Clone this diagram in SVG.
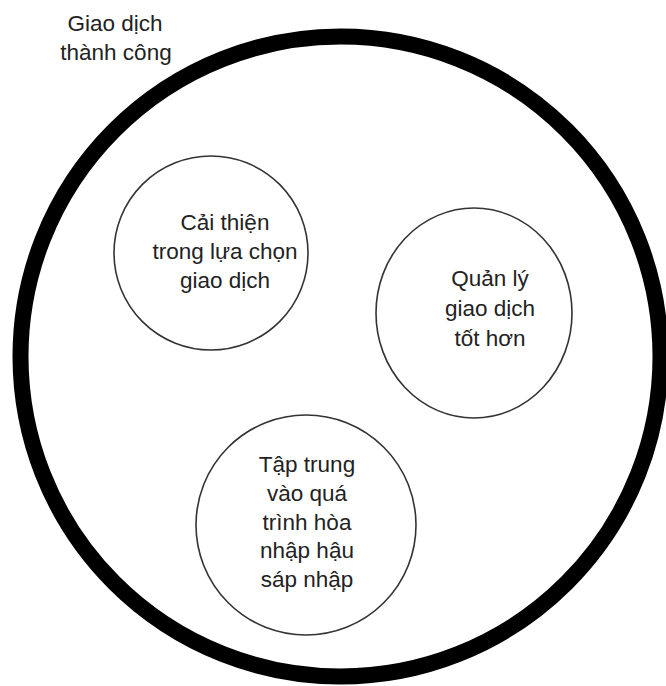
<svg xmlns="http://www.w3.org/2000/svg" width="666" height="686" viewBox="0 0 666 686">
<style>
.t{font-family:"Liberation Sans",Arial,sans-serif;font-size:22.5px;fill:#222;text-anchor:middle}
.s{fill:#fff;stroke:#333;stroke-width:1.6}
</style>
<rect width="666" height="686" fill="#fff"/>
<g id="outer">
<circle cx="340.5" cy="356.5" r="320" fill="none" stroke="#000" stroke-width="16"/>
<text class="t" x="115" y="31">Giao dịch</text>
<text class="t" x="116" y="60">thành công</text>
</g>
<g id="node1">
<circle class="s" cx="211" cy="253" r="97"/>
<text class="t" x="225" y="230">Cải thiện</text>
<text class="t" x="225" y="259">trong lựa chọn</text>
<text class="t" x="225" y="288">giao dịch</text>
</g>
<g id="node2">
<ellipse class="s" cx="474" cy="313" rx="98" ry="105"/>
<text class="t" x="490" y="286">Quản lý</text>
<text class="t" x="490" y="316">giao dịch</text>
<text class="t" x="490" y="346">tốt hơn</text>
</g>
<g id="node3">
<circle class="s" cx="306" cy="525" r="110"/>
<text class="t" x="307" y="472">Tập trung</text>
<text class="t" x="307" y="501">vào quá</text>
<text class="t" x="307" y="530">trình hòa</text>
<text class="t" x="307" y="558">nhập hậu</text>
<text class="t" x="307" y="587">sáp nhập</text>
</g>
<g id="connectors"></g>
</svg>
